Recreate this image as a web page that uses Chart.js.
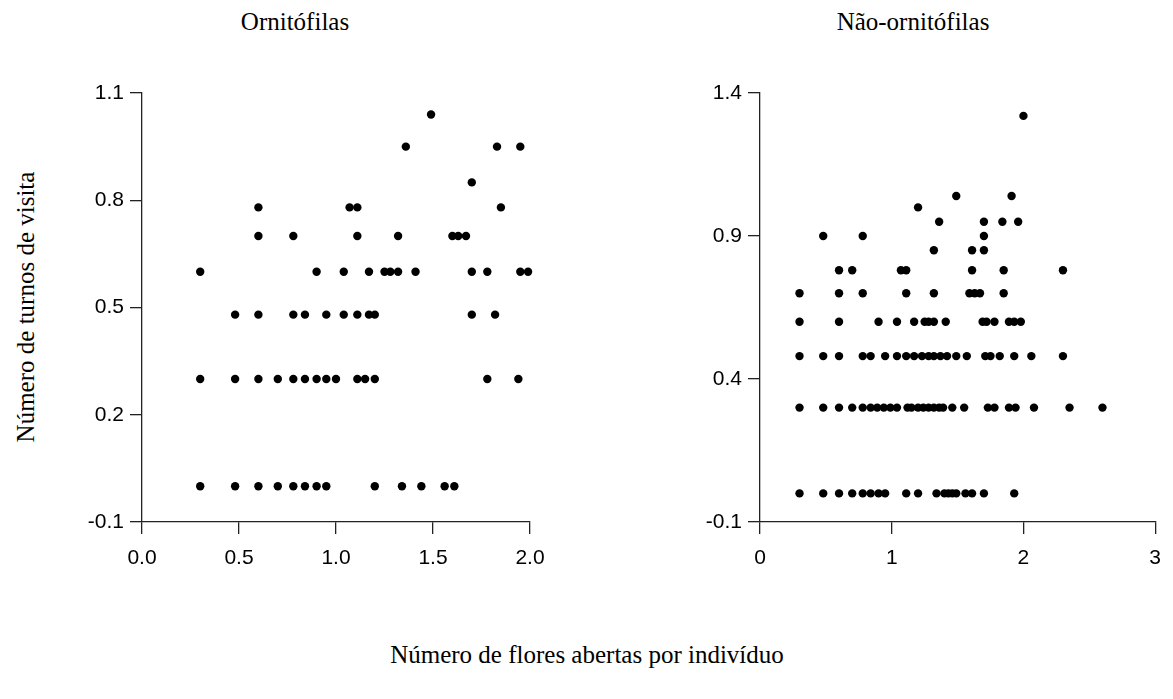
<!DOCTYPE html>
<html>
<head>
<meta charset="utf-8">
<script src="https://cdn.jsdelivr.net/npm/chart.js@4"></script>
<style>
  body { margin: 0; background: #fff; }
  #wrap { position: relative; width: 1173px; height: 699px; overflow: hidden; }
  .box { position: absolute; top: 0; height: 600px; }
  .lbl { position: absolute; font-family: "Liberation Serif", "Times New Roman", serif; font-size: 25px; line-height: 30px; color: #000; white-space: nowrap; transform: translateX(-50%); }
  #ytitle { transform: translate(-50%, -50%) rotate(-90deg); }
</style>
</head>
<body>
<div id="wrap">
  <div class="lbl" style="left:295px; top:7px;">Ornitófilas</div>
  <div class="lbl" style="left:913px; top:7px;">Não-ornitófilas</div>
  <div class="lbl" id="ytitle" style="left:26px; top:307px;">Número de turnos de visita</div>
  <div class="lbl" style="left:587px; top:640px;">Número de flores abertas por indivíduo</div>
  <div class="box" style="left:0; width:578px;"><canvas id="orniCanvas"></canvas></div>
  <div class="box" style="left:640px; width:533px;"><canvas id="naoCanvas"></canvas></div>
</div>
<script>
// Ornitófilas: x = flores abertas, y = turnos de visita (escala log)
const orniX = [
  1.49,
  1.36, 1.83, 1.95,
  1.70,
  0.60, 1.07, 1.11, 1.85,
  0.60, 0.78, 1.11, 1.32, 1.60, 1.63, 1.67,
  0.30, 0.90, 1.04, 1.17, 1.25, 1.28, 1.32, 1.41, 1.70, 1.78, 1.95, 1.99,
  0.48, 0.60, 0.78, 0.84, 0.95, 1.04, 1.11, 1.17, 1.20, 1.70, 1.82,
  0.30, 0.48, 0.60, 0.70, 0.78, 0.84, 0.90, 0.95, 1.00, 1.11, 1.15, 1.20, 1.78, 1.94,
  0.30, 0.48, 0.60, 0.70, 0.78, 0.84, 0.90, 0.95, 1.20, 1.34, 1.44, 1.56, 1.61
];
const orniY = [
  1.04,
  0.95, 0.95, 0.95,
  0.85,
  0.78, 0.78, 0.78, 0.78,
  0.70, 0.70, 0.70, 0.70, 0.70, 0.70, 0.70,
  0.60, 0.60, 0.60, 0.60, 0.60, 0.60, 0.60, 0.60, 0.60, 0.60, 0.60, 0.60,
  0.48, 0.48, 0.48, 0.48, 0.48, 0.48, 0.48, 0.48, 0.48, 0.48, 0.48,
  0.30, 0.30, 0.30, 0.30, 0.30, 0.30, 0.30, 0.30, 0.30, 0.30, 0.30, 0.30, 0.30, 0.30,
  0, 0, 0, 0, 0, 0, 0, 0, 0, 0, 0, 0, 0
];

// Não-ornitófilas
const naoX = [
  2.00,
  1.49, 1.91,
  1.20,
  1.36, 1.70, 1.84, 1.96,
  0.48, 0.78, 1.70,
  1.32, 1.61, 1.70,
  0.60, 0.70, 1.07, 1.11, 1.61, 1.85, 2.30,
  0.30, 0.60, 0.78, 1.11, 1.32, 1.59, 1.63, 1.67, 1.85,
  0.30, 0.60, 0.90, 1.04, 1.17, 1.25, 1.28, 1.32, 1.41, 1.69, 1.72, 1.78, 1.89, 1.93, 1.98,
  0.30, 0.48, 0.60, 0.78, 0.84, 0.95, 1.04, 1.11, 1.17, 1.23, 1.28, 1.32, 1.37, 1.42, 1.49, 1.57, 1.71, 1.75, 1.82, 1.93, 2.06, 2.30,
  0.30, 0.48, 0.60, 0.70, 0.78, 0.84, 0.89, 0.94, 0.99, 1.04, 1.12, 1.15, 1.20, 1.24, 1.28, 1.32, 1.36, 1.39, 1.46, 1.55, 1.73, 1.78, 1.89, 1.94, 2.08, 2.35, 2.60,
  0.30, 0.48, 0.60, 0.70, 0.78, 0.84, 0.90, 0.95, 1.11, 1.20, 1.34, 1.40, 1.43, 1.46, 1.49, 1.56, 1.61, 1.70, 1.93
];
const naoY = [
  1.32,
  1.04, 1.04,
  1.00,
  0.95, 0.95, 0.95, 0.95,
  0.90, 0.90, 0.90,
  0.85, 0.85, 0.85,
  0.78, 0.78, 0.78, 0.78, 0.78, 0.78, 0.78,
  0.70, 0.70, 0.70, 0.70, 0.70, 0.70, 0.70, 0.70, 0.70,
  0.60, 0.60, 0.60, 0.60, 0.60, 0.60, 0.60, 0.60, 0.60, 0.60, 0.60, 0.60, 0.60, 0.60, 0.60,
  0.48, 0.48, 0.48, 0.48, 0.48, 0.48, 0.48, 0.48, 0.48, 0.48, 0.48, 0.48, 0.48, 0.48, 0.48, 0.48, 0.48, 0.48, 0.48, 0.48, 0.48, 0.48,
  0.30, 0.30, 0.30, 0.30, 0.30, 0.30, 0.30, 0.30, 0.30, 0.30, 0.30, 0.30, 0.30, 0.30, 0.30, 0.30, 0.30, 0.30, 0.30, 0.30, 0.30, 0.30, 0.30, 0.30, 0.30, 0.30, 0.30,
  0, 0, 0, 0, 0, 0, 0, 0, 0, 0, 0, 0, 0, 0, 0, 0, 0, 0, 0
];

// tick settings per panel
const orniXTicks = { min: 0, max: 2, step: 0.5, digits: 1 };
const orniYTicks = { min: -0.1, max: 1.1, step: 0.3, digits: 1 };
const naoXTicks = { min: 0, max: 3, step: 1, digits: 0 };
const naoYTicks = { min: -0.1, max: 1.4, step: 0.5, digits: 1 };

function toPoints(xs, ys) {
  var pts = [];
  for (let i = 0; i < xs.length; i++) {
    pts.push({ x: xs[i], y: ys[i] });
  }
  return pts;
}

const axisColor = "#222";
const tickFont = { family: "'Liberation Sans', Arial, sans-serif", size: 21 };

function axis(t, pos, fitSize) {
  return {
    type: "linear",
    position: pos,
    min: t.min,
    max: t.max,
    grid: { display: true, drawOnChartArea: false, drawTicks: true, tickLength: 12, color: axisColor, lineWidth: 1.3 },
    border: { display: true, color: axisColor, width: 1.3 },
    ticks: {
      stepSize: t.step,
      color: "#000",
      font: tickFont,
      padding: pos === "left" ? 6 : 12,
      maxRotation: 0,
      callback: function (v) { return Number(v).toFixed(t.digits); }
    },
    afterFit: function (scale) {
      if (pos === "left") scale.width = fitSize; else scale.height = fitSize;
    }
  };
}

function panel(canvas, xs, ys, xt, yt, yWidth, padRight) {
  new Chart(canvas, {
    type: "scatter",
    data: {
      datasets: [{
        data: toPoints(xs, ys),
        backgroundColor: "#000",
        borderColor: "#000",
        pointRadius: 4.2,
        pointBorderWidth: 0,
        clip: false
      }]
    },
    options: {
      responsive: false,
      animation: false,
      layout: { padding: { top: 93, right: padRight, left: 0, bottom: 0 } },
      plugins: { legend: { display: false }, tooltip: { enabled: false }, title: { display: false } },
      scales: {
        x: axis(xt, "bottom", 78),
        y: axis(yt, "left", yWidth)
      }
    }
  });
}

const orniCanvas = document.getElementById("orniCanvas");
orniCanvas.width = 578; orniCanvas.height = 600;
const naoCanvas = document.getElementById("naoCanvas");
naoCanvas.width = 533; naoCanvas.height = 600;

panel(orniCanvas, orniX, orniY, orniXTicks, orniYTicks, 142, 48);
panel(naoCanvas, naoX, naoY, naoXTicks, naoYTicks, 120, 15);
</script>
</body>
</html>
